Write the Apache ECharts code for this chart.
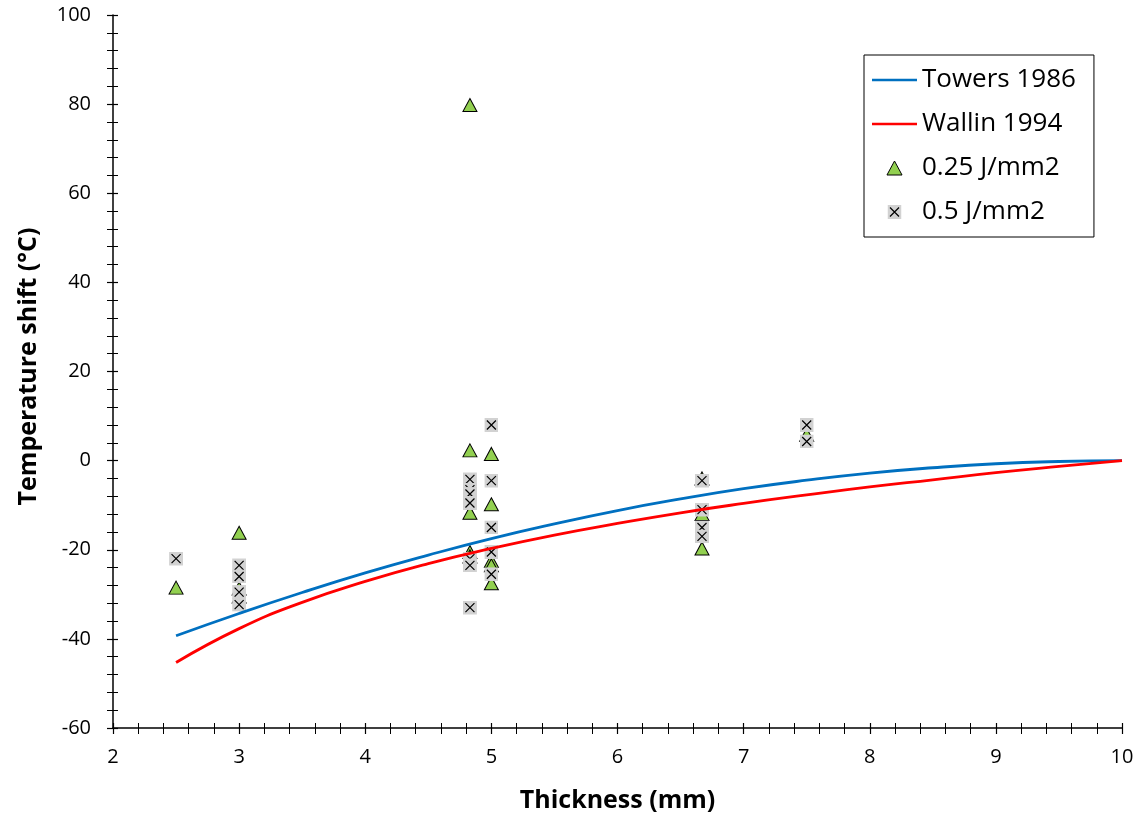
<!DOCTYPE html>
<html>
<head>
<meta charset="utf-8">
<script src="https://cdn.jsdelivr.net/npm/echarts@6/dist/echarts.min.js"></script>
<style>html,body{margin:0;padding:0;background:#fff}#c{width:1143px;height:822px}</style>
</head>
<body>
<div id="c"></div>
<script>
// Curve readings (thickness mm -> shift °C)
var curveThickness = [2.5, 3, 3.5, 4, 4.5, 5, 5.5, 6, 6.5, 7, 7.5, 8, 8.5, 9, 9.5, 10];
var towersShift = [-39.3, -34.3, -29.6, -25.2, -21.2, -17.5, -14.2, -11.2, -8.6, -6.3, -4.4, -2.8, -1.6, -0.7, -0.2, 0];
var wallinShift = [-45.3, -37.7, -31.8, -27.1, -23.1, -19.7, -16.7, -14.1, -11.7, -9.6, -7.7, -5.9, -4.3, -2.7, -1.3, 0];

// 0.25 J/mm2 (triangles)
var triThickness = [2.5, 3, 3, 3, 4.83, 4.83, 4.83, 4.83, 4.83, 5, 5, 5, 5, 5, 6.67, 6.67, 6.67, 7.5];
var triShift = [-28.5, -16.2, -28.7, -30.5, 79.8, 2.3, -11.7, -20.5, -21.5, 1.5, -9.8, -22.5, -23.5, -27.5, -4, -12, -19.7, 5.8];

// 0.5 J/mm2 (crosses)
var crsThickness = [2.5, 3, 3, 3, 3, 4.83, 4.83, 4.83, 4.83, 4.83, 4.83, 4.83, 5, 5, 5, 5, 5, 6.67, 6.67, 6.67, 6.67, 7.5, 7.5];
var crsShift = [-22, -23.5, -26, -29.5, -32.3, -4.2, -6.5, -7.5, -9.5, -22, -23.5, -33, 8, -4.5, -15, -20.5, -25.5, -4.5, -11, -15, -17, 8, 4.3];

var seriesNames = ['Towers 1986', 'Wallin 1994', '0.25 J/mm2', '0.5 J/mm2'];
var xTitle = 'Thickness (mm)';
var yTitle = 'Temperature shift (°C)';

function zip(a, b) { return a.map(function (v, i) { return [v, b[i]]; }); }

var crossSvg = "<svg xmlns='http://www.w3.org/2000/svg' width='28' height='28'><rect x='0' y='0' width='28' height='28' fill='#d2d2d2'/><path d='M5,5L23,23M23,5L5,23' stroke='#000' stroke-width='2.4'/></svg>";
var crossSymbol = 'image://data:image/svg+xml;charset=utf-8,' + encodeURIComponent(crossSvg);
var lineIcon = 'path://M0,0H90V5H0Z';
var triIcon = 'path://M0,14L7,1L14,14Z';

var FONT = 'Open Sans';
var chart = echarts.init(document.getElementById('c'));

var xCommon = { type: 'value', min: 2, max: 10, interval: 1, splitLine: { show: false } };
var yCommon = { type: 'value', min: -60, max: 100, interval: 20, splitLine: { show: false } };

chart.setOption({
  animation: false,
  backgroundColor: '#fff',
  grid: { left: 113, right: 21, top: 15, bottom: 94, containLabel: false, outerBoundsMode: 'none' },
  xAxis: [
    Object.assign({}, xCommon, {
      position: 'bottom',
      name: xTitle, nameLocation: 'middle', nameGap: 60,
      nameTextStyle: { fontFamily: FONT, fontWeight: 'bold', fontSize: 25, color: '#000' },
      axisLine: { show: true, onZero: false, lineStyle: { color: '#000', width: 1.5 } },
      axisTick: { show: true, inside: false, length: 6, lineStyle: { color: '#000', width: 1.2 } },
      minorTick: { show: true, splitNumber: 5, length: 6, lineStyle: { color: '#000', width: 1 } },
      axisLabel: { fontFamily: FONT, fontSize: 20, color: '#000', margin: 19 }
    }),
    Object.assign({}, xCommon, {
      position: 'bottom',
      axisLine: { show: false, onZero: false },
      axisTick: { show: true, inside: true, length: 5, lineStyle: { color: '#000', width: 1.2 } },
      minorTick: { show: true, splitNumber: 5, length: 5, lineStyle: { color: '#000', width: 1 } },
      axisLabel: { show: false }
    })
  ],
  yAxis: [
    Object.assign({}, yCommon, {
      position: 'left',
      name: yTitle, nameLocation: 'middle', nameGap: 72, nameRotate: 90,
      nameTextStyle: { fontFamily: FONT, fontWeight: 'bold', fontSize: 25, color: '#000', padding: [0, 0, 0, 10] },
      axisLine: { show: true, onZero: false, lineStyle: { color: '#000', width: 1.5 } },
      axisTick: { show: true, inside: false, length: 6, lineStyle: { color: '#000', width: 1.2 } },
      minorTick: { show: true, splitNumber: 5, length: 6, lineStyle: { color: '#000', width: 1 } },
      axisLabel: { fontFamily: FONT, fontSize: 20, color: '#000', margin: 22 }
    }),
    Object.assign({}, yCommon, {
      position: 'left',
      axisLine: { show: false, onZero: false },
      axisTick: { show: true, inside: true, length: 5, lineStyle: { color: '#000', width: 1.2 } },
      minorTick: { show: true, splitNumber: 5, length: 5, lineStyle: { color: '#000', width: 1 } },
      axisLabel: { show: false }
    })
  ],
  legend: {
    orient: 'vertical', left: 864, top: 55,
    borderColor: '#000', borderWidth: 1, backgroundColor: '#fff',
    padding: [11, 18, 11, 8],
    itemWidth: 45, itemHeight: 14, itemGap: 16,
    symbolKeepAspect: true,
    textStyle: { fontFamily: FONT, fontSize: 26, color: '#000', lineHeight: 28 },
    data: [
      { name: seriesNames[0], icon: lineIcon, itemStyle: { color: '#0070c0' } },
      { name: seriesNames[1], icon: lineIcon, itemStyle: { color: '#ff0000' } },
      { name: seriesNames[2], icon: triIcon, itemStyle: { color: '#92d050', borderColor: '#000', borderWidth: 1 } },
      { name: seriesNames[3], icon: crossSymbol }
    ]
  },
  series: [
    {
      name: seriesNames[0], type: 'line', smooth: true, showSymbol: false, symbol: 'none',
      data: zip(curveThickness, towersShift),
      lineStyle: { color: '#0070c0', width: 2.8 }, itemStyle: { color: '#0070c0' }
    },
    {
      name: seriesNames[1], type: 'line', smooth: true, showSymbol: false, symbol: 'none',
      data: zip(curveThickness, wallinShift),
      lineStyle: { color: '#ff0000', width: 2.8 }, itemStyle: { color: '#ff0000' }
    },
    {
      name: seriesNames[2], type: 'scatter', symbol: 'triangle', symbolSize: [14, 13],
      data: zip(triThickness, triShift),
      itemStyle: { color: '#92d050', borderColor: '#000', borderWidth: 1, opacity: 1 }
    },
    {
      name: seriesNames[3], type: 'scatter', symbol: crossSymbol, symbolSize: [14, 14],
      data: zip(crsThickness, crsShift),
      itemStyle: { color: '#d2d2d2', opacity: 1 }
    }
  ]
});
</script>
</body>
</html>
